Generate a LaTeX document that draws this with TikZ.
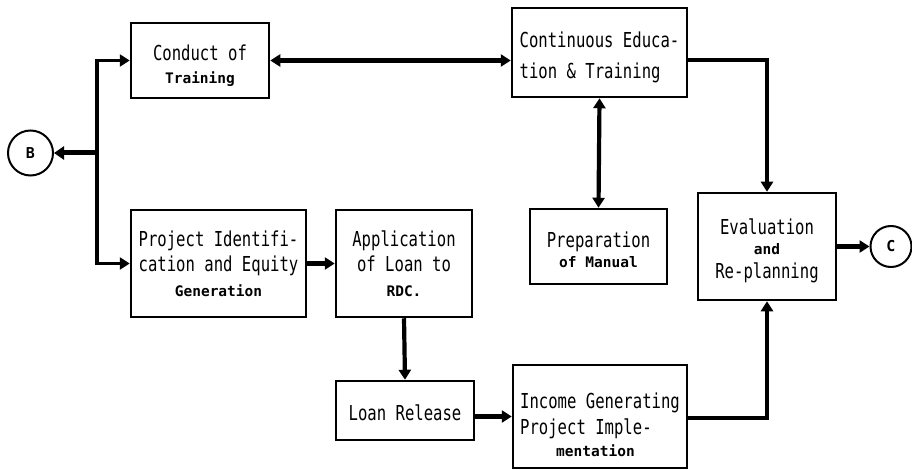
\documentclass[tikz,border=0pt]{standalone}
\usepackage{fontspec}
\usepackage{graphicx}
\setmonofont{DejaVu Sans Mono}
\usetikzlibrary{arrows.meta}
\newcommand{\Lg}[1]{\scalebox{1}[1.32]{#1}}
\newcommand{\Sm}[1]{{\fontsize{14.5}{20}\selectfont\bfseries #1}}
\newcommand{\Up}[1]{\rule{0pt}{#1pt}}
\tikzset{
  box/.style={draw, line width=2.5pt, inner sep=0pt, align=center,
    font=\ttfamily\fontsize{15.6}{25}\selectfont},
  circ/.style={draw, circle, line width=2pt, inner sep=0pt,
    font=\ttfamily\bfseries\fontsize{15}{16}\selectfont},
  arr/.style={line width=4.2pt, -{Triangle[length=10pt,width=12pt]}},
  darr/.style={line width=4.2pt, {Triangle[length=10pt,width=12pt]}-{Triangle[length=10pt,width=12pt]}},
}
\begin{document}
\begin{tikzpicture}[x=1pt,y=-1pt]
\fill[white] (0,0) rectangle (912,470);
\useasboundingbox (0,0) rectangle (912,470);

\node[box, minimum width=138pt, minimum height=75pt] (conduct) at (200,60.5)
  {\Up{26}\Lg{Conduct of}\\[-2pt]\Sm{Training}};
\node[box, minimum width=175pt, minimum height=89pt, align=left] (cont) at (599.5,52.5)
  {\Up{26}\Lg{Continuous Educa-}\\[6pt]\Lg{tion \& Training}};
\node[box, minimum width=175pt, minimum height=107pt] (project) at (218.5,263.5)
  {\Lg{Project Identifi-}\\\Lg{cation and Equity}\\\Sm{Generation}};
\node[box, minimum width=136pt, minimum height=107pt] (app) at (404,263.5)
  {\Lg{Application}\\\Lg{of Loan to}\\\Sm{RDC.}};
\node[box, minimum width=138pt, minimum height=59pt] (loan) at (405,410.5)
  {\Up{20}\Lg{Loan Release}};
\node[box, minimum width=137pt, minimum height=75pt] (prep) at (598.5,246.5)
  {\Up{22}\Lg{Preparation}\\[-5pt]\Sm{of Manual}};
\node[box, minimum width=138pt, minimum height=107pt] (eval) at (767,246.5)
  {\Up{24}\Lg{Evaluation}\\[-5pt]\Sm{and}\\[-1pt]\Lg{Re-planning}};
\node[box, minimum width=174pt, minimum height=103pt, align=left] (income) at (600,416.5)
  {\Up{32}\Lg{Income Generating}\\[1pt]\Lg{Project Imple-}\\[-3pt]\hspace*{36pt}\Sm{mentation}};

\node[circ, minimum size=45pt] (B) at (30.5,153) {B};
\node[circ, minimum size=41pt] (C) at (891,246.5) {C};

\coordinate (J) at (97,153);
\draw[line width=5pt, -{Triangle[length=10pt,width=13pt]}] (J) -- (B);
\draw[arr, line width=3.5pt] (J) |- (conduct.west);
\draw[arr, line width=3.5pt] (J) |- (project.west);
\draw[darr] (conduct.east) -- (conduct.east -| cont.west);
\draw[arr] (project.east) -- (app.west);
\draw[arr] (app.south) -- (loan.north);
\draw[arr] (income.west -| loan.east) -- (income.west);
\draw[darr] (cont.south) -- (prep.north);
\draw[arr] ([yshift=-7.5pt]cont.east) -| (eval.north);
\draw[arr] ([yshift=-1.5pt]income.east) -| (eval.south);
\draw[arr] (eval.east) -- (C.west);
\end{tikzpicture}
\end{document}
